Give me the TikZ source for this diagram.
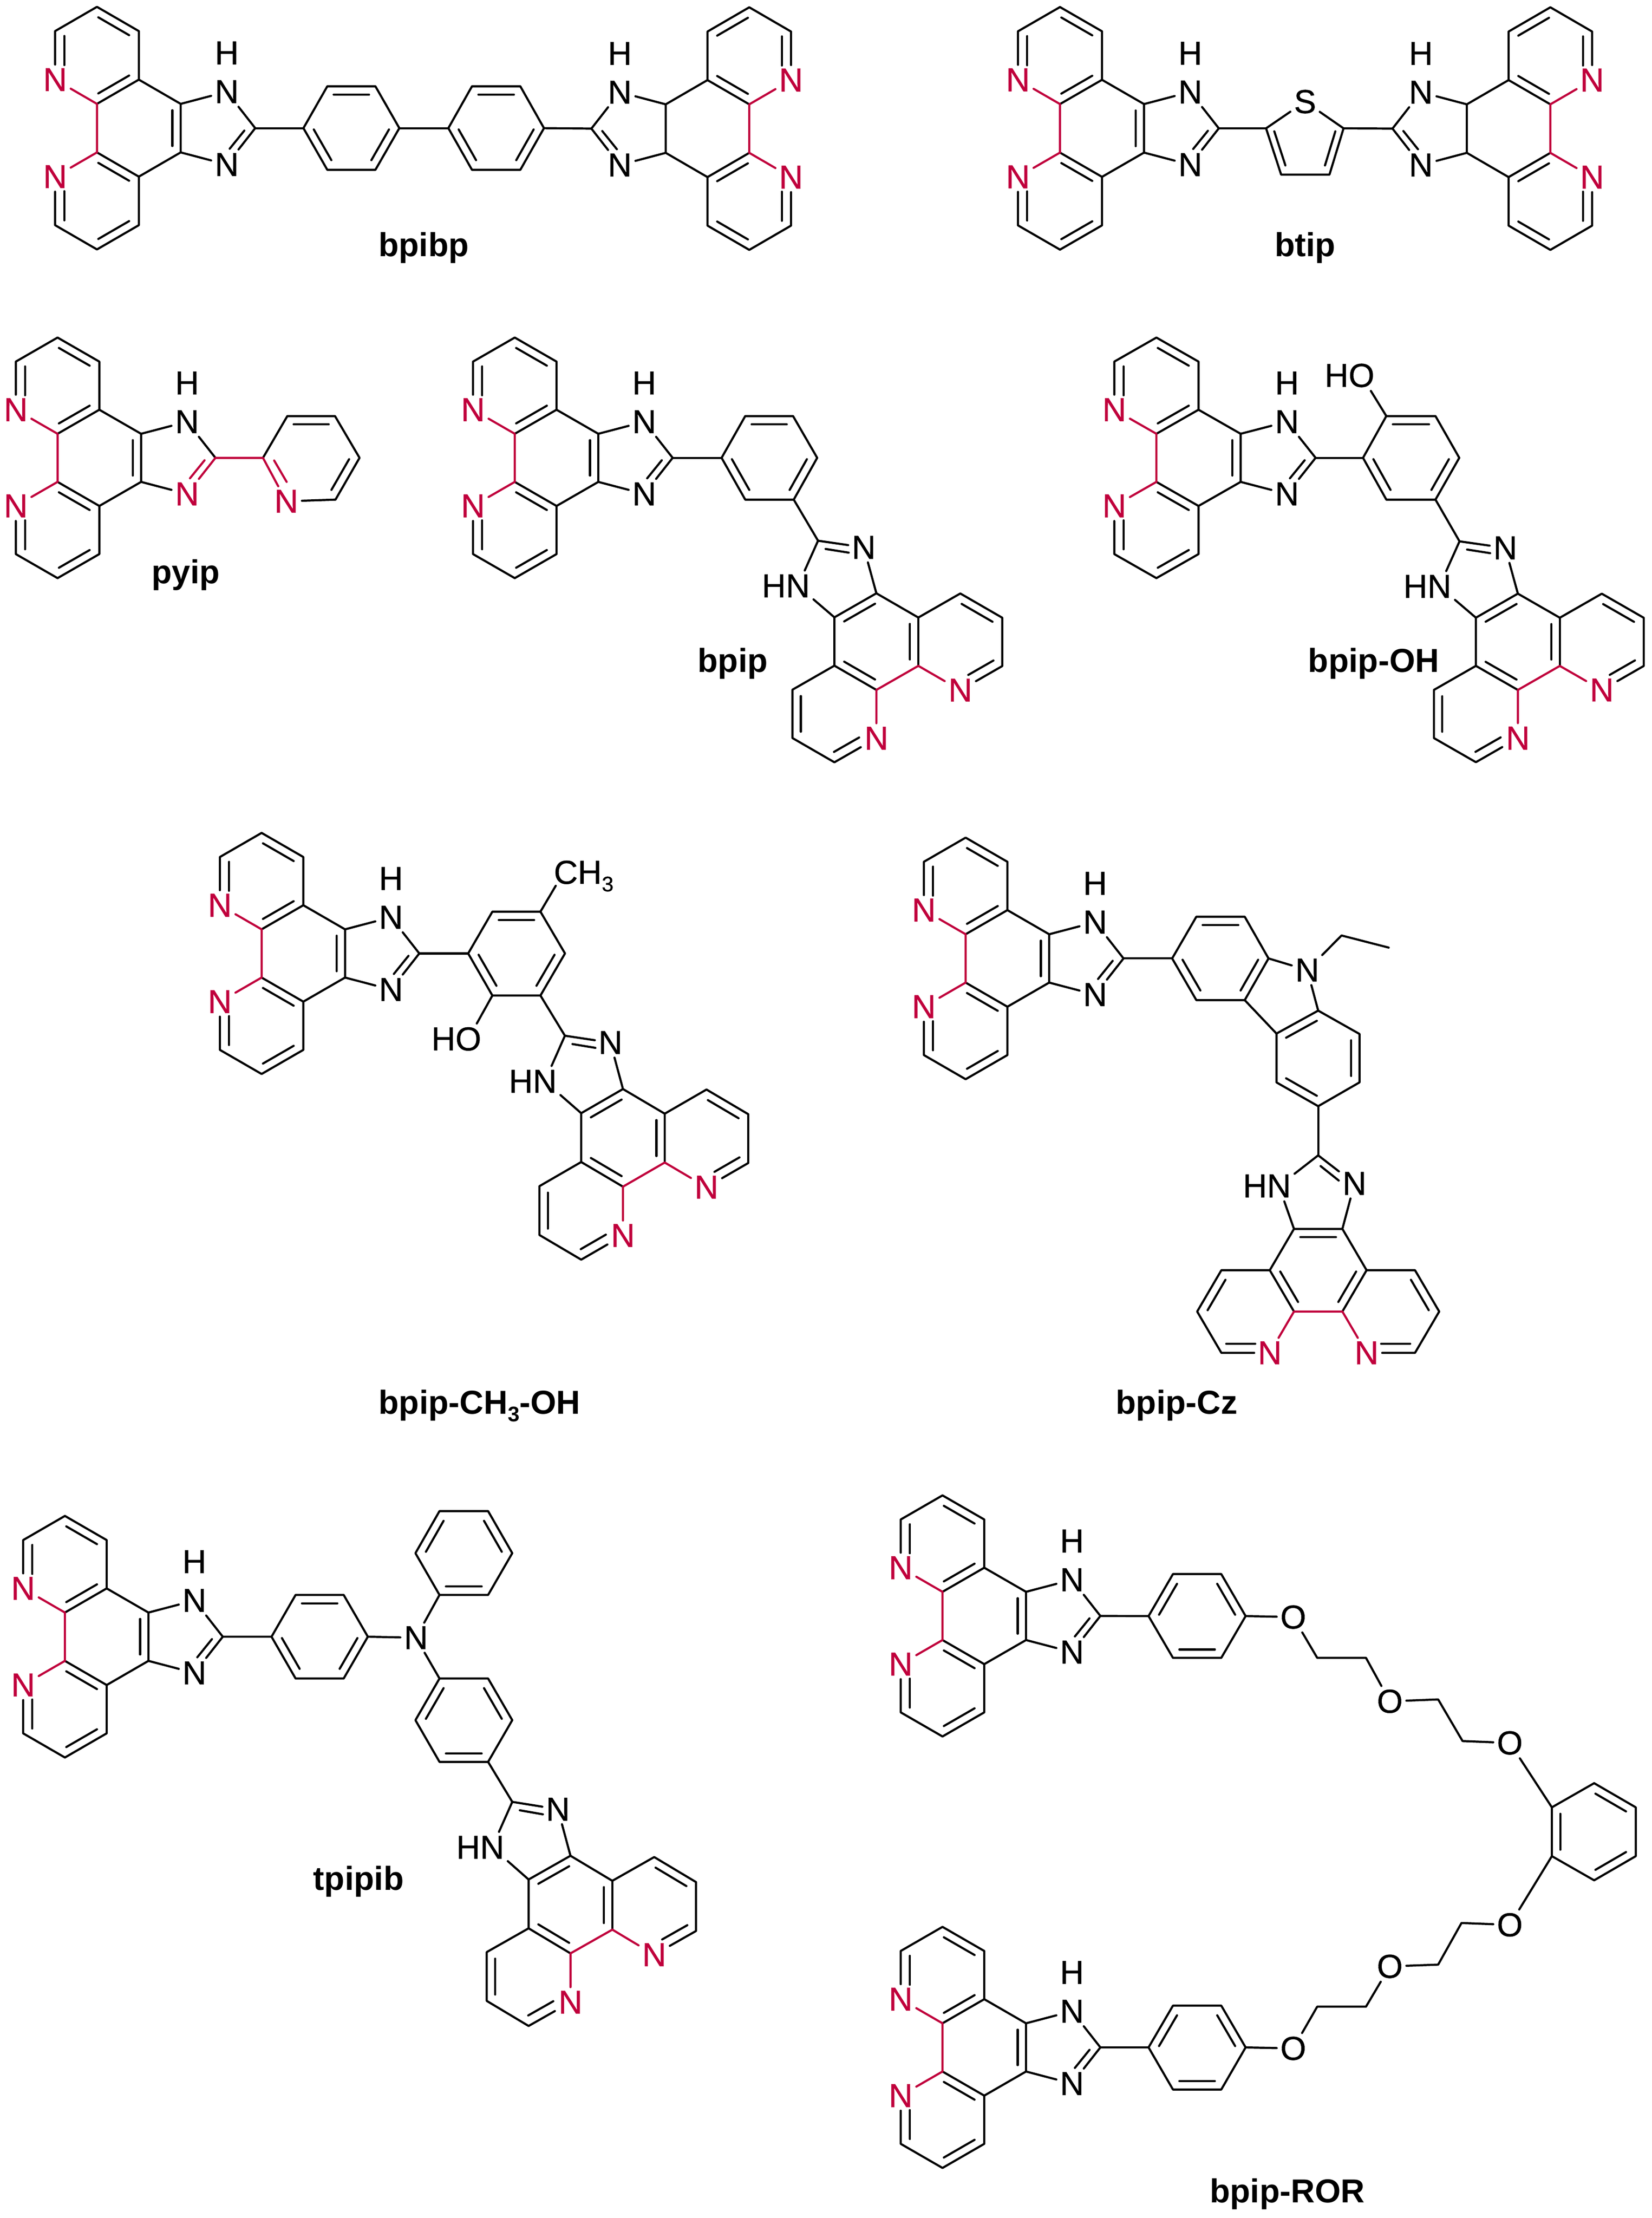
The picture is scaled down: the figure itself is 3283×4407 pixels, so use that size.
\documentclass[tikz,border=0pt]{standalone}
\usepackage{fontspec}
\setmainfont{Liberation Sans}
\newfontfamily\atomface[FakeBold=0.6]{Liberation Sans}
\usetikzlibrary{calc}
\definecolor{nred}{HTML}{C0003C}
\newcommand\sizefont{\fontsize{66}{72}\selectfont}
\newcommand\atomfont{\atomface\fontsize{66}{72}\selectfont}
\newcommand\subfont{\fontsize{42}{44}\selectfont}
\tikzset{
  bond/.style={line width=4.2pt,line cap=round,line join=round},
  redbond/.style={bond,draw=nred},
  atom/.style={inner sep=7pt,font=\atomfont},
  rednode/.style={atom,text=nred},
  atombox/.style={inner sep=0pt,minimum width=62pt,minimum height=61pt},
  plaintext/.style={inner sep=0pt,font=\atomfont},
  molname/.style={inner sep=0pt,font=\sizefont\bfseries,anchor=base},
}
\def\imcol{black}
% inner line of a double bond
\newcommand\innerb[4][bond]{\draw[#1] ($($(#2)!.04!(#3)$)!.2!(#4)$) -- ($($(#3)!.04!(#2)$)!.2!(#4)$);}
% six-membered ring: name, points, inner bonds
\newcommand\hexring[3]{%
  \foreach \px/\py [count=\ci] in {#2} {\coordinate (#1-\ci) at (\px,\py);}
  \draw[bond] (#1-1)--(#1-2)--(#1-3)--(#1-4)--(#1-5)--(#1-6)--cycle;
  \coordinate (#1-c) at ($(#1-1)!.5!(#1-4)$);
  \foreach \ci/\cj in {#3} {\innerb{#1-\ci}{#1-\cj}{#1-c}}
}
% phenanthroimidazole unit: prefix, T, X vector, Y vector, kind (a upright, m mirrored, r rotated)
\newcommand\phen[8]{%
  \pgfmathsetmacro\vxy{-(#5)}\pgfmathsetmacro\vyy{-(#7)}
  \begin{scope}[shift={(#2,#3)},x={(#4pt,\vxy pt)},y={(#6pt,\vyy pt)}]
    \coordinate (#1-a1) at (0,-4);
    \coordinate (#1-a2) at (1,-5);
    \coordinate (#1-a3) at (2,-4);
    \coordinate (#1-j1) at (2,-2);
    \coordinate (#1-c1) at (1,-1);
    \coordinate (#1-c2) at (3,-1);
    \coordinate (#1-c3) at (3,1);
    \coordinate (#1-c4) at (1,1);
    \coordinate (#1-j2) at (2,2);
    \coordinate (#1-b3) at (2,4);
    \coordinate (#1-b2) at (1,5);
    \coordinate (#1-b1) at (0,4);
    \coordinate (#1-im) at (4.78,0);
    \coordinate (#1-ca) at (1,-3);
    \coordinate (#1-cb) at (1,3);
    \coordinate (#1-cm) at (2,0);
    \coordinate (#1-p1) at (.22,-3.8);
    \coordinate (#1-p2) at (.22,-2.6);
    \coordinate (#1-p3) at (.22,2.6);
    \coordinate (#1-p4) at (.22,3.8);
    \coordinate (#1-p5) at (4.52,.1);
    \coordinate (#1-p6) at (4.17,.85);
    \node[rednode] (#1-na) at (0,-2) {N};
    \node[rednode] (#1-nb) at (0,2) {N};
    \node[atom,text=\imcol] (#1-n2) at (4.1,1.5) {N};
    \if r#8
      \node[atombox,xshift=-6pt,yshift=-5pt] (#1-n1) at (4.1,-1.5) {};
      \node[plaintext,anchor=east,xshift=-7pt] (#1-hn) at (#1-n1.east) {HN};
    \else
      \node[atom] (#1-n1) at (4.1,-1.5) {N};
      \node[atom,yshift=77pt] (#1-h) at (4.1,-1.5) {H};
    \fi
    \draw[bond] (#1-na)--(#1-a1)--(#1-a2)--(#1-a3)--(#1-j1)--(#1-c2)--(#1-c3)--(#1-j2)--(#1-b3)--(#1-b2)--(#1-b1)--(#1-nb);
    \draw[bond] (#1-j1)--(#1-c1);
    \draw[bond] (#1-j2)--(#1-c4);
    \draw[bond] (#1-c2)--(#1-n1)--(#1-im);
    \draw[bond,draw=\imcol] (#1-im)--(#1-n2);
    \draw[bond] (#1-n2)--(#1-c3);
    \draw[redbond] (#1-na)--(#1-c1)--(#1-c4)--(#1-nb);
    \innerb{#1-a2}{#1-a3}{#1-ca}
    \innerb{#1-b2}{#1-b3}{#1-cb}
    \draw[bond] (#1-p1)--(#1-p2);
    \draw[bond] (#1-p3)--(#1-p4);
    \draw[bond,draw=\imcol] (#1-p5)--(#1-p6);
    \if m#8\else\innerb{#1-c2}{#1-c3}{#1-cm}\fi
    \if r#8
      \innerb{#1-j1}{#1-c1}{#1-cm}
      \innerb{#1-j2}{#1-c4}{#1-cm}
    \else
      \innerb{#1-j1}{#1-c1}{#1-ca}
      \innerb{#1-j2}{#1-c4}{#1-cb}
    \fi
  \end{scope}
}
\begin{document}
\begin{tikzpicture}[x=1pt,y=-1pt]
\fill[white] (0,0) rectangle (3283,4407);
\useasboundingbox (0,0) rectangle (3283,4407);

% ---------- bpibp
\phen{ba}{109.5}{254.6}{83.2}{0}{0}{48.2}{a}
\phen{bb}{1572}{255.5}{-83}{0}{0}{48.2}{m}
\hexring{bra}{603/254.6,650.5/171.4,746/171.4,793.6/254.6,746/337.5,650.5/337.5}{2/3,4/5,6/1}
\hexring{brb}{891/254.6,938/171.4,1034/171.4,1081/254.6,1034/337.5,938/337.5}{2/3,4/5,6/1}
\draw[bond] (ba-im)--(bra-1);
\draw[bond] (bra-4)--(brb-1);
\draw[bond] (brb-4)--(bb-im);
\node[molname] (lab-bpibp) at (842,509) {bpibp};

% ---------- btip
\phen{ta}{2023}{255}{83.5}{0}{0}{48.2}{a}
\phen{tb}{3164}{255.5}{-83}{0}{0}{48.2}{m}
\node[atom] (th-s) at (2593.5,202) {S};
\coordinate (th-1) at (2516,255);
\coordinate (th-2) at (2546,347);
\coordinate (th-3) at (2642,347);
\coordinate (th-4) at (2670,255);
\coordinate (th-c) at (2593,270);
\draw[bond] (th-s)--(th-1)--(th-2)--(th-3)--(th-4)--(th-s);
\innerb{th-1}{th-2}{th-c}
\innerb{th-4}{th-3}{th-c}
\draw[bond] (ta-im)--(th-1);
\draw[bond] (th-4)--(tb-im);
\node[molname] (lab-btip) at (2593.5,509) {btip};

% ---------- pyip
\def\imcol{nred}
\phen{pa}{31.4}{909.7}{83}{0}{0}{47.8}{a}
\def\imcol{black}
\coordinate (py-1) at (522.6,909.7);
\coordinate (py-2) at (571,826.7);
\coordinate (py-3) at (665.7,826.7);
\coordinate (py-4) at (714.5,909.7);
\coordinate (py-5) at (666.7,992.7);
\coordinate (py-c) at (618.5,909.7);
\coordinate (py-6) at (571,992.7);
\node[rednode] (py-n) at (569,996) {N};
\draw[bond] (py-1)--(py-2)--(py-3)--(py-4)--(py-5)--(py-n);
\innerb{py-2}{py-3}{py-c}
\innerb{py-4}{py-5}{py-c}
\draw[redbond] (pa-im)--(py-1)--(py-n);
\draw[redbond] ($($(py-1)!.08!(py-6)$)!.2!(py-c)$) -- ($($(py-1)!.72!(py-6)$)!.2!(py-c)$);
\node[molname] (lab-pyip) at (369,1159) {pyip};

% ---------- bpip
\phen{qa}{940}{909.7}{83}{0}{0}{47.8}{a}
\phen{qb}{1825}{1419}{-41.7}{-72.1}{41.7}{-23.9}{r}
\hexring{qr}{1434/909.7,1481/826.7,1576/826.7,1624/909.7,1577.4/992.7,1481/992.7}{2/3,4/5,6/1}
\draw[bond] (qa-im)--(qr-1);
\draw[bond] (qr-5)--(qb-im);
\node[molname] (lab-bpip) at (1456,1335) {bpip};

% ---------- bpip-OH
\phen{oa}{2214.4}{909.7}{83.7}{0}{0}{47.8}{a}
\phen{ob}{3099.8}{1418.8}{-41.7}{-71.8}{41.7}{-23.9}{r}
\hexring{or}{2708.7/909.7,2755/826.7,2852.7/826.7,2900/909.7,2852.7/992.7,2755/992.7}{2/3,4/5,6/1}
\node[atombox] (oh-o) at (2705.4,746) {};
\node[plaintext,anchor=east,xshift=-5pt] (oh-t) at (oh-o.east) {HO};
\draw[bond] (oa-im)--(or-1);
\draw[bond] (or-5)--(ob-im);
\draw[bond] (or-2)--(oh-o);
\node[molname] (lab-bpipoh) at (2730,1335) {bpip-OH};

% ---------- bpip-CH3-OH
\phen{ma}{437}{1894.4}{82.9}{0}{0}{47.9}{a}
\phen{mb}{1321}{2406.8}{-41.5}{-73}{41.5}{-24}{r}
\hexring{mr}{930.4/1894.4,978.5/1811.4,1074/1811.4,1122.8/1894.4,1074/1978,978.5/1978}{2/3,4/5,6/1}
\node[plaintext,anchor=base west] (me) at (1100.4,1756) {CH\raisebox{-15pt}{\atomface\subfont 3}};
\node[atombox] (mo-o) at (930.4,2064.3) {};
\node[plaintext,anchor=east,xshift=-5pt] (mo-t) at (mo-o.east) {HO};
\draw[bond] (ma-im)--(mr-1);
\draw[bond] (mr-3)--($(me.base west)+(4,4)$);
\draw[bond] (mr-6)--(mo-o);
\draw[bond] (mr-5)--(mb-im);
\node[molname] (lab-ch3oh) at (953,2809) {bpip-CH\raisebox{-15pt}{\subfont\bfseries 3}-OH};

% ---------- bpip-Cz
\phen{za}{1836}{1904.3}{83}{0}{0}{48}{a}
\phen{zb}{2619.6}{2688}{0}{-82.1}{48.1}{0}{r}
\hexring{zr}{2329.4/1904.3,2377.5/1821.4,2473.6/1821.4,2520.9/1904.3,2473.6/1987.2,2377.5/1987.2}{2/3,4/5,6/1}
\hexring{zs}{2536.7/2053.6,2619.6/2008,2701.7/2054.4,2701.7/2150.6,2619.6/2197.9,2536.7/2150.6}{1/2,3/4,5/6}
\node[atom] (cz-n) at (2598,1927.5) {N};
\coordinate (et-1) at (2666,1858.7);
\coordinate (et-2) at (2759.7,1882.8);
\draw[bond] (za-im)--(zr-1);
\draw[bond] (zr-5)--(zs-1);
\draw[bond] (zr-4)--(cz-n);
\draw[bond] (cz-n)--(zs-2);
\draw[bond] (cz-n)--(et-1)--(et-2);
\draw[bond] (zs-5)--(zb-im);
\node[molname] (lab-cz) at (2338.5,2809) {bpip-Cz};

% ---------- tpipib
\phen{ua}{46}{3252}{83}{0}{0}{48}{a}
\phen{ub}{1216.9}{3931}{-41.6}{-73.4}{41.6}{-23.6}{r}
\hexring{ur}{539.6/3252,587.4/3169,683/3169,731/3252,683/3335,587.4/3335}{2/3,4/5,6/1}
\hexring{us}{873.4/3169,825.6/3086,873.4/3002.4,970/3002.4,1018/3086,970/3169}{2/3,4/5,6/1}
\hexring{ut}{873.4/3335,970/3335,1018/3417.8,970/3500.7,873.4/3500.7,825.6/3417.8}{2/3,4/5,6/1}
\node[atom] (tp-n) at (826.6,3254) {N};
\draw[bond] (ua-im)--(ur-1);
\draw[bond] (ur-4)--(tp-n);
\draw[bond] (tp-n)--(us-1);
\draw[bond] (tp-n)--(ut-1);
\draw[bond] (ut-4)--(ub-im);
\node[molname] (lab-tpipib) at (712.7,3755) {tpipib};

% ---------- bpip-ROR
\phen{ra}{1790}{3210.7}{83}{0}{0}{47.9}{a}
\phen{rb}{1790}{4068}{83}{0}{0}{47.9}{a}
\hexring{rr}{2282.5/3211,2331/3127.5,2427/3127.5,2475.4/3211,2427/3294,2331/3294}{1/2,3/4,5/6}
\hexring{rs}{2282.5/4068,2331/3985,2427/3985,2475.4/4068,2427/4151.7,2331/4151.7}{1/2,3/4,5/6}
\hexring{rc}{3084/3591,3168/3543,3250.7/3591,3250.7/3688,3168/3736,3084/3688}{6/1,2/3,4/5}
\node[atom] (o1) at (2570,3213) {O};
\node[atom] (o2) at (2762,3380.3) {O};
\node[atom] (o3) at (3000.4,3463) {O};
\node[atom] (o4) at (3000.4,3824.5) {O};
\node[atom] (o5) at (2762,3907) {O};
\node[atom] (o6) at (2570,4070) {O};
\coordinate (ch-1) at (2617.7,3294);
\coordinate (ch-2) at (2714.6,3294);
\coordinate (ch-3) at (2858,3376.6);
\coordinate (ch-4) at (2906.5,3459.3);
\coordinate (ch-5) at (2904.4,3820.8);
\coordinate (ch-6) at (2858,3903.5);
\coordinate (ch-7) at (2714.6,3987);
\coordinate (ch-8) at (2617.7,3987);
\draw[bond] (ra-im)--(rr-1);
\draw[bond] (rb-im)--(rs-1);
\draw[bond] (rr-4)--(o1)--(ch-1)--(ch-2)--(o2)--(ch-3)--(ch-4)--(o3)--(rc-1);
\draw[bond] (rs-4)--(o6)--(ch-8)--(ch-7)--(o5)--(ch-6)--(ch-5)--(o4)--(rc-6);
\node[molname] (lab-ror) at (2558,4376.6) {bpip-ROR};
\end{tikzpicture}
\end{document}
